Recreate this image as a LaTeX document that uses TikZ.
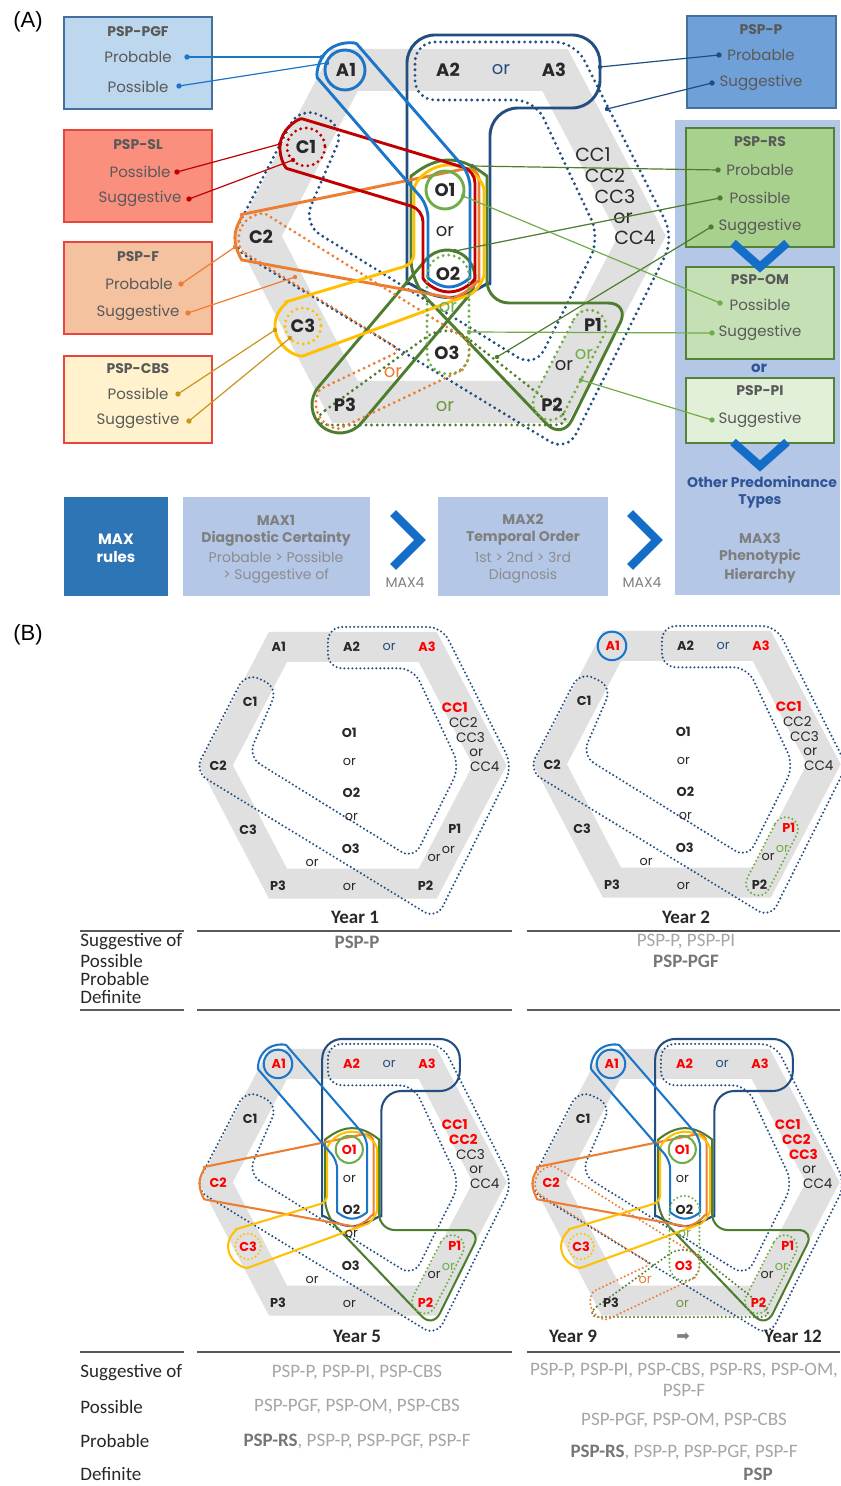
\documentclass[tikz,border=0pt]{standalone}
\usepackage{fontspec}
\setmainfont{Poppins}
\newfontfamily\narrowf{Carlito}
\newfontfamily\arialf{Liberation Sans}
\newfontfamily\dejavuf{DejaVu Sans}
\usetikzlibrary{calc}

\definecolor{bandgrey}{RGB}{224,224,224}
\definecolor{pgfblue}{RGB}{27,117,201}
\definecolor{navyP}{RGB}{34,78,128}
\definecolor{slred}{RGB}{192,0,0}
\definecolor{forange}{RGB}{237,125,49}
\definecolor{cbsyellow}{RGB}{255,192,0}
\definecolor{cbsgold}{RGB}{200,150,30}
\definecolor{rsgreen}{RGB}{78,125,47}
\definecolor{omgreen}{RGB}{112,173,71}
\definecolor{rsolive}{RGB}{110,150,60}
\definecolor{boxPGF}{RGB}{189,215,238}
\definecolor{boxSL}{RGB}{250,143,125}
\definecolor{boxF}{RGB}{245,194,160}
\definecolor{boxCBS}{RGB}{255,242,204}
\definecolor{boxP}{RGB}{111,160,216}
\definecolor{boxRS}{RGB}{169,209,142}
\definecolor{boxOM}{RGB}{197,224,180}
\definecolor{boxPI}{RGB}{226,240,217}
\definecolor{panelbg}{RGB}{180,199,231}
\definecolor{bluebdr}{RGB}{65,113,156}
\definecolor{redbdr}{RGB}{232,70,60}
\definecolor{greenbdr}{RGB}{84,130,53}
\definecolor{chevblue}{RGB}{20,110,200}
\definecolor{maxblue}{RGB}{46,117,182}
\definecolor{txtgrey}{RGB}{89,89,89}
\definecolor{maxgrey}{RGB}{127,127,127}
\definecolor{lightgrey}{RGB}{140,140,140}
\definecolor{tablegrey}{RGB}{166,166,166}
\definecolor{tabbold}{RGB}{118,118,118}
\definecolor{labgrey}{RGB}{40,40,40}
\definecolor{labred}{RGB}{255,0,0}
\definecolor{navytxt}{RGB}{47,85,151}
\definecolor{rulegrey}{RGB}{90,90,90}

\newcommand\setsc[1]{%
  \def\sc{#1}%
  \pgfmathsetmacro\lwS{1.45*#1}%
  \pgfmathsetmacro\lwD{1.6*#1}%
  \pgfmathsetmacro\dotS{2.8*#1}%
  \pgfmathsetmacro\fsL{9*#1}%
  \pgfmathsetmacro\fsC{9.5*#1}%
  \pgfmathsetmacro\bandW{21*#1}%
}
\tikzset{
  rc/.code={\pgfmathsetlengthmacro\tmprc{#1*\sc*0.5pt}\tikzset{rounded corners=\tmprc}},
  solidO/.style={line width=\lwS pt, line join=round},
  dotO/.style={line width=\lwD pt, line cap=round, dash pattern=on 0pt off \dotS pt},
  lab/.style={font=\fontsize{\fsL}{\fsL}\selectfont\bfseries, text=labgrey, inner sep=0pt},
  labc/.style={font=\fontsize{\fsC}{\fsC}\selectfont, text=labgrey, inner sep=0pt},
  labor/.style={font=\fontsize{\fsL}{\fsL}\selectfont, text=labgrey, inner sep=0pt},
  isred/.style={text=labred},
  isredc/.style={text=labred, font=\fontsize{\fsC}{\fsC}\selectfont\bfseries},
  lA1/.style={}, lA2/.style={}, lA3/.style={}, lCC1/.style={}, lCC2/.style={}, lCC3/.style={},
  lC2/.style={}, lC3/.style={}, lO1/.style={}, lO3/.style={}, lP1/.style={}, lP2/.style={},
  orA/.style={}, orO2/.style={}, orP1/.style={}, orP3/.style={}, orPP/.style={},
  boxst/.style={inner sep=0pt, line width=0.6pt},
  ttl/.style={font=\fontsize{7}{7}\selectfont\bfseries, text=txtgrey, inner sep=0pt},
  bod/.style={font=\fontsize{7.5}{7.5}\selectfont, text=txtgrey, inner sep=0pt},
  maxb/.style={font=\fontsize{7}{7}\selectfont\bfseries, text=maxgrey, inner sep=0pt},
  maxr/.style={font=\fontsize{7}{7}\selectfont, text=lightgrey, inner sep=0pt},
  chev/.style={chevblue, line width=4.2pt, line join=miter},
  tabl/.style={font=\narrowf\fontsize{9.5}{9.5}\selectfont, text=labgrey, inner sep=0pt, anchor=west},
  tabv/.style={font=\narrowf\fontsize{9.5}{9.5}\selectfont, text=tablegrey, inner sep=0pt},
  tabb/.style={font=\narrowf\fontsize{9.5}{9.5}\selectfont\bfseries, text=tabbold, inner sep=0pt},
  yearl/.style={font=\narrowf\fontsize{9.5}{9.5}\selectfont\bfseries, text=labgrey, inner sep=0pt},
  rulel/.style={rulegrey, line width=0.9pt},
}

% ---------- hexagon diagram pieces (local pixel coordinates of panel A) ----------
\newcommand\hexband{\draw[bandgrey, line width=\bandW pt, line join=miter] (345,70) -- (555,70) -- (642,236) -- (555,402) -- (345,402) -- (258,236) -- cycle;}
\newcommand\shD{\draw[navyP,dotO,rc=20] (415,42) -- (575,42) -- (674,238) -- (567,452) -- (228,245) -- (300,106) -- (345,127) -- (303,224) -- (535,368) -- (600,238) -- (535,100) -- (415,100) -- cycle;}
\newcommand\shNavy{\draw[navyP,solidO,rc=28] (407,150) -- (407,35) -- (600,35) -- (600,108) -- (490,108) -- (490,256) arc[start angle=0,end angle=180,radius=41.5] -- cycle;}
\newcommand\shAone{\draw[pgfblue,solidO] (345,70) circle[radius=20];}
\newcommand\shBlue{\draw[pgfblue,solidO,rc=12] (325.3,87) arc[start angle=139.2,end angle=319.2,radius=26] -- (470,174.5) -- (470,266) arc[start angle=0,end angle=180,radius=21] -- (428,205.5) -- cycle;}
\newcommand\shRedDot{\draw[slred,dotO] (306,147) circle[radius=19];}
\newcommand\shRed{\draw[slred,solidO,rc=12] (298.5,172) arc[start angle=106.7,end angle=286.7,radius=26] -- (475,170.8) -- (475,266) arc[start angle=0,end angle=180,radius=26] -- (423,209.6) -- cycle;}
\newcommand\shOrange{\draw[forange,solidO,rc=15] (256.2,262.6) arc[start angle=100.6,end angle=258.5,radius=26] -- (479,165.9) -- (479,267) arc[start angle=0,end angle=100.7,radius=30] -- cycle;}
\newcommand\shOrangeDot{\draw[forange,dotO,rc=8] (249.4,255.7) arc[start angle=121.8,end angle=301.8,radius=22] -- (458.6,334.3) arc[start angle=-58.2,end angle=64.5,radius=22] -- (347.5,424.8) arc[start angle=64.5,end angle=244.5,radius=22] -- (401.2,350.5) -- cycle;}
\newcommand\shYellow{\draw[cbsyellow,solidO,rc=10] (312.9,352.2) arc[start angle=69.2,end angle=253.3,radius=28] -- (414,263.6) -- (414,200) arc[start angle=180,end angle=360,radius=35] -- (484,265) arc[start angle=0,end angle=69.2,radius=35] -- cycle;}
\newcommand\shYellowDot{\draw[cbsyellow,dotO] (303,326) circle[radius=18];}
\newcommand\shOone{\draw[omgreen,solidO] (445,190) circle[radius=19];}
\newcommand\shGreen{\draw[rsgreen,solidO,rc=22] (411,198) arc[start angle=180,end angle=360,radius=38] -- (487,303) -- (630,303) -- (562,440) -- (411,282) -- cycle;}
\newcommand\shGreenPthree{\draw[rsgreen,solidO] (361.4,423) arc[start angle=40.1,end angle=220.1,radius=28] -- (425.6,260) arc[start angle=220.1,end angle=400.1,radius=28] -- cycle;}
\newcommand\shGreenDot{\draw[rsgreen,dotO,rc=25] (305,425) -- (447,322) -- (578,425) -- cycle;}
\newcommand\shOMdot{\draw[omgreen,dotO] (427,276) arc[start angle=180,end angle=360,radius=21] -- (469,353) arc[start angle=0,end angle=180,radius=21] -- cycle;}
\newcommand\shPIdot{\draw[omgreen,dotO] (573.9,319.2) arc[start angle=207.2,end angle=387.2,radius=17] -- (565.1,410.8) arc[start angle=27.2,end angle=207.2,radius=17] -- cycle;}

\newcommand\hexlabels[1]{%
 \node[lab,lA1] (#1A1) at (346,70) {A1};
 \node[lab,lA2] (#1A2) at (448,70) {A2};
 \node[labor,orA] (#1orA) at (501,70) {or};
 \node[lab,lA3] (#1A3) at (554,70) {A3};
 \node[labc,lCC1] (#1CC1) at (593,155) {CC1};
 \node[labc,lCC2] (#1CC2) at (605,176) {CC2};
 \node[labc,lCC3] (#1CC3) at (615,197) {CC3};
 \node[labc] (#1orCC) at (623,218) {or};
 \node[labc] (#1CC4) at (635,238) {CC4};
 \node[lab] (#1C1) at (306,147) {C1};
 \node[lab,lC2] (#1C2) at (261,237) {C2};
 \node[lab,lC3] (#1C3) at (303,326) {C3};
 \node[lab,lO1] (#1O1) at (445,190) {O1};
 \node[labor] (#1orO) at (445,232) {or};
 \node[lab] (#1O2) at (448,274) {O2};
 \node[labor,orO2] (#1orOb) at (448,308) {or};
 \node[lab,lO3] (#1O3) at (447,353) {O3};
 \node[lab,lP1] (#1P1) at (593,325) {P1};
 \node[labor,orP1] (#1orPa) at (584,355) {or};
 \node[labor] (#1orPb) at (564,366) {or};
 \node[lab,lP2] (#1P2) at (552,405) {P2};
 \node[lab] (#1P3) at (345,405) {P3};
 \node[labor,orP3] (#1orPc) at (393,373) {or};
 \node[labor,orPP] (#1orPd) at (445,407) {or};
}

\newcommand\link[4]{%
 \coordinate (#2-s) at (#3); \coordinate (#2-e) at (#4);
 \draw[#1, line width=0.6pt] (#2-s) -- (#2-e);
 \fill[#1] (#2-s) circle[radius=2.7];
 \fill[#1] (#2-e) circle[radius=2.2];}

\begin{document}
\begin{tikzpicture}[x=0.5pt,y=-0.5pt]
\useasboundingbox (0,0) rectangle (840,1486);
\fill[white] (0,0) rectangle (840,1486);

\node[font=\arialf\fontsize{11}{11}\selectfont, inner sep=0pt] (labA) at (28,22) {(A)};
\node[font=\arialf\fontsize{11}{11}\selectfont, inner sep=0pt] (labB) at (28,635) {(B)};

% right background panel
\node[fill=panelbg, minimum width=82.5pt, minimum height=237.5pt, inner sep=0pt] (rbg) at (757.5,357.5) {};

% ================= panel A diagram =================
\begin{scope}
\setsc{1}
\tikzset{orA/.style={text=navyP}, orO2/.style={text=omgreen}, orP1/.style={text=omgreen},
  orP3/.style={text=forange}, orPP/.style={text=rsolive}}
\hexband
\shD \shNavy \shGreen \shGreenPthree \shGreenDot
\shOrangeDot \shOrange \shYellow \shYellowDot \shRed \shRedDot \shBlue \shAone
\shOone \shOMdot \shPIdot
\hexlabels{a}
\end{scope}

% ================= left boxes =================
\node[boxst, fill=boxPGF, draw=bluebdr, minimum width=74pt, minimum height=46pt] (bPGF) at (138,63) {};
\node[ttl] (tPGF) at (138,32) {PSP-PGF};
\node[bod] (tPGFa) at (138,57) {Probable};
\node[bod] (tPGFb) at (138,87) {Possible};

\node[boxst, fill=boxSL, draw=redbdr, minimum width=74pt, minimum height=46pt] (bSL) at (138,176) {};
\node[ttl] (tSL) at (138,145) {PSP-SL};
\node[bod] (tSLa) at (140,172) {Possible};
\node[bod] (tSLb) at (140,199) {Suggestive};

\node[boxst, fill=boxF, draw=redbdr, minimum width=74pt, minimum height=46pt] (bF) at (138,288) {};
\node[ttl] (tF) at (138,257) {PSP-F};
\node[bod] (tFa) at (139,284) {Probable};
\node[bod] (tFb) at (138,313) {Suggestive};

\node[boxst, fill=boxCBS, draw=redbdr, minimum width=74pt, minimum height=43.5pt] (bCBS) at (138,399.5) {};
\node[ttl] (tCBS) at (138,369) {PSP-CBS};
\node[bod] (tCBSa) at (138,394) {Possible};
\node[bod] (tCBSb) at (138,421) {Suggestive};

% ================= right boxes =================
\node[boxst, fill=boxP, draw=bluebdr, minimum width=74.5pt, minimum height=46pt] (bP) at (761.5,62) {};
\node[ttl] (tP) at (761,30) {PSP-P};
\node[bod] (tPa) at (761,55) {Probable};
\node[bod] (tPb) at (761,83) {Suggestive};

\node[boxst, fill=boxRS, draw=greenbdr, minimum width=74pt, minimum height=59.5pt] (bRS) at (760,187.5) {};
\node[ttl] (tRS) at (760,142) {PSP-RS};
\node[bod] (tRSa) at (760,170) {Probable};
\node[bod] (tRSb) at (760,198) {Possible};
\node[bod] (tRSc) at (760,227) {Suggestive};

\node[boxst, fill=boxOM, draw=greenbdr, minimum width=74pt, minimum height=46pt] (bOM) at (760,313) {};
\node[ttl] (tOM) at (760,280) {PSP-OM};
\node[bod] (tOMa) at (760,305) {Possible};
\node[bod] (tOMb) at (760,333) {Suggestive};

\node[font=\fontsize{7.5}{7.5}\selectfont\bfseries, text=navytxt, inner sep=0pt] (tor) at (759,368) {or};

\node[boxst, fill=boxPI, draw=greenbdr, minimum width=74pt, minimum height=32.5pt] (bPI) at (760,410.5) {};
\node[ttl] (tPI) at (760,391) {PSP-PI};
\node[bod] (tPIa) at (760,420) {Suggestive};

\coordinate (cv1a) at (733,243); \coordinate (cv1b) at (760,267); \coordinate (cv1c) at (787,243);
\draw[chev] (cv1a) -- (cv1b) -- (cv1c);
\coordinate (cv2a) at (733,442); \coordinate (cv2b) at (760,466); \coordinate (cv2c) at (787,442);
\draw[chev] (cv2a) -- (cv2b) -- (cv2c);

\node[font=\fontsize{7}{7}\selectfont\bfseries, text=navytxt, inner sep=0pt] (tOther) at (762,482) {Other Predominance};
\node[font=\fontsize{7}{7}\selectfont\bfseries, text=navytxt, inner sep=0pt] (tTypes) at (760,501) {Types};
\node[maxb] (tM3a) at (760,538) {MAX3};
\node[maxb] (tM3b) at (760,557) {Phenotypic};
\node[maxb] (tM3c) at (760,576) {Hierarchy};

% ================= MAX rules row =================
\node[boxst, fill=maxblue, minimum width=52pt, minimum height=49.5pt] (bMAX) at (116,546.5) {};
\node[font=\fontsize{7.5}{7.5}\selectfont\bfseries, text=white, inner sep=0pt] (tMAXa) at (116,539) {MAX};
\node[font=\fontsize{7.5}{7.5}\selectfont\bfseries, text=white, inner sep=0pt] (tMAXb) at (116,557) {rules};

\node[boxst, fill=panelbg, minimum width=93.5pt, minimum height=49.5pt] (bM1) at (276.5,546.5) {};
\node[maxb] (tM1a) at (276,520) {MAX1};
\node[maxb] (tM1b) at (276,539) {Diagnostic Certainty};
\node[maxr] (tM1c) at (276,557) {Probable > Possible};
\node[maxr] (tM1d) at (276,576) {> Suggestive of};

\node[boxst, fill=panelbg, minimum width=85pt, minimum height=49.5pt] (bM2) at (523,546.5) {};
\node[maxb] (tM2a) at (523,519) {MAX2};
\node[maxb] (tM2b) at (523,538) {Temporal Order};
\node[maxr] (tM2c) at (523,557) {1st > 2nd > 3rd};
\node[maxr] (tM2d) at (523,576) {Diagnosis};

\coordinate (ch1a) at (393,513); \coordinate (ch1b) at (420,540); \coordinate (ch1c) at (393,567);
\draw[chev] (ch1a) -- (ch1b) -- (ch1c);
\coordinate (ch2a) at (630,513); \coordinate (ch2b) at (657,540); \coordinate (ch2c) at (630,567);
\draw[chev] (ch2a) -- (ch2b) -- (ch2c);
\node[font=\fontsize{7}{7}\selectfont, text=maxgrey, inner sep=0pt] (m4a) at (405,582) {MAX4};
\node[font=\fontsize{7}{7}\selectfont, text=maxgrey, inner sep=0pt] (m4b) at (642,582) {MAX4};

% ================= connectors panel A =================
\link{pgfblue}{lk1}{187,57}{322,57}
\link{pgfblue}{lk2}{179,86}{327,63}
\link{slred}{lk3}{177,172}{280,144}
\link{slred}{lk4}{189,199}{293,160}
\link{forange}{lk5}{181,284}{235,247}
\link{forange}{lk6}{188,313}{295,277}
\link{cbsgold}{lk7}{178,394}{275,330}
\link{cbsgold}{lk8}{189,421}{290,338}
\link{navyP}{lk9}{719,55}{600,67}
\link{navyP}{lk10}{712,83}{607,109}
\link{rsgreen}{lk11}{718,170}{472,166}
\link{rsgreen}{lk12}{720,198}{455,251}
\link{rsgreen}{lk13}{711,227}{497,357}
\link{omgreen}{lk14}{720,303}{463,196}
\link{omgreen}{lk15}{712,333}{469,332}
\link{omgreen}{lk16}{712,420}{581,380}

% ================= panel B diagrams =================
% Year 1
\begin{scope}[xshift=16pt,yshift=-298.5pt,x=0.3565pt,y=-0.3565pt]
\setsc{0.713}
\tikzset{orA/.style={text=navyP}, lA3/.style={isred}, lCC1/.style={isredc}}
\hexband
\shD
\hexlabels{b}
\end{scope}
% Year 2
\begin{scope}[xshift=183pt,yshift=-298pt,x=0.3565pt,y=-0.3565pt]
\setsc{0.713}
\tikzset{orA/.style={text=navyP}, orP1/.style={text=omgreen}, lA1/.style={isred}, lA3/.style={isred}, lCC1/.style={isredc}, lP1/.style={isred}}
\hexband
\shD \shAone \shPIdot
\hexlabels{c}
\end{scope}
% Year 5
\begin{scope}[xshift=16pt,yshift=-507pt,x=0.3565pt,y=-0.3565pt]
\setsc{0.713}
\tikzset{orA/.style={text=navyP}, orP1/.style={text=omgreen}, lA1/.style={isred}, lA2/.style={isred}, lA3/.style={isred},
 lCC1/.style={isredc}, lCC2/.style={isredc}, lC2/.style={isred}, lC3/.style={isred}, lO1/.style={isred}, lP1/.style={isred}, lP2/.style={isred}}
\hexband
\shD \shNavy \shGreen \shOrange \shYellow \shYellowDot \shBlue \shAone \shOone \shPIdot
\hexlabels{d}
\end{scope}
% Year 9 -> 12
\begin{scope}[xshift=182.5pt,yshift=-507pt,x=0.3565pt,y=-0.3565pt]
\setsc{0.713}
\tikzset{orA/.style={text=navyP}, orP1/.style={text=omgreen}, orO2/.style={text=omgreen}, orP3/.style={text=forange}, orPP/.style={text=rsolive},
 lA1/.style={isred}, lA2/.style={isred}, lA3/.style={isred}, lCC1/.style={isredc}, lCC2/.style={isredc}, lCC3/.style={isredc},
 lC2/.style={isred}, lC3/.style={isred}, lO1/.style={isred}, lO3/.style={isred}, lP1/.style={isred}, lP2/.style={isred}}
\hexband
\shD \shNavy \shGreen \shGreenDot \shOrangeDot \shOrange \shYellow \shYellowDot \shBlue \shAone \shOone \shOMdot \shPIdot
\hexlabels{e}
\end{scope}

% ================= tables =================
\node[yearl] (y1) at (355,917) {Year 1};
\node[yearl] (y2) at (686,917) {Year 2};
\coordinate (r1a) at (80,931); \coordinate (r1b) at (184,931);
\coordinate (r1c) at (197,931); \coordinate (r1d) at (512,931);
\coordinate (r1e) at (527,931); \coordinate (r1f) at (840,931);
\draw[rulel] (r1a) -- (r1b); \draw[rulel] (r1c) -- (r1d); \draw[rulel] (r1e) -- (r1f);
\coordinate (r2a) at (80,1010); \coordinate (r2b) at (184,1010);
\coordinate (r2c) at (197,1010); \coordinate (r2d) at (512,1010);
\coordinate (r2e) at (527,1010); \coordinate (r2f) at (840,1010);
\draw[rulel] (r2a) -- (r2b); \draw[rulel] (r2c) -- (r2d); \draw[rulel] (r2e) -- (r2f);
\node[tabl] (t1a) at (80,942) {Suggestive of};
\node[tabl] (t1b) at (80,961) {Possible};
\node[tabl] (t1c) at (80,979) {Probable};
\node[tabl] (t1d) at (80,997) {Definite};
\node[tabb] (v1a) at (357,942) {PSP-P};
\node[tabv] (v2a) at (686,942) {PSP-P, PSP-PI};
\node[tabb] (v2b) at (686,961) {PSP-PGF};

\node[yearl] (y5) at (357,1336) {Year 5};
\node[yearl] (y9) at (573,1336) {Year 9};
\node[font=\dejavuf\fontsize{8}{8}\selectfont, text=maxgrey, inner sep=0pt] (yarr) at (683,1337) {➡};
\node[yearl] (y12) at (793,1336) {Year 12};
\coordinate (r3a) at (80,1352); \coordinate (r3b) at (184,1352);
\coordinate (r3c) at (197,1352); \coordinate (r3d) at (512,1352);
\coordinate (r3e) at (527,1352); \coordinate (r3f) at (840,1352);
\draw[rulel] (r3a) -- (r3b); \draw[rulel] (r3c) -- (r3d); \draw[rulel] (r3e) -- (r3f);
\node[tabl] (t2a) at (80,1373) {Suggestive of};
\node[tabl] (t2b) at (80,1407) {Possible};
\node[tabl] (t2c) at (80,1441) {Probable};
\node[tabl] (t2d) at (80,1474) {Definite};
\node[tabv] (v5a) at (357,1373) {PSP-P, PSP-PI, PSP-CBS};
\node[tabv] (v5b) at (357,1407) {PSP-PGF, PSP-OM, PSP-CBS};
\node[tabv] (v5c) at (357,1441) {{\color{tabbold}\bfseries PSP-RS}, PSP-P, PSP-PGF, PSP-F};
\node[tabv] (v9a) at (684,1371) {PSP-P, PSP-PI, PSP-CBS, PSP-RS, PSP-OM,};
\node[tabv] (v9b) at (684,1390) {PSP-F};
\node[tabv] (v9c) at (684,1421) {PSP-PGF, PSP-OM, PSP-CBS};
\node[tabv] (v9d) at (684,1452) {{\color{tabbold}\bfseries PSP-RS}, PSP-P, PSP-PGF, PSP-F};
\node[tabb] (v9e) at (758,1474) {PSP};
\end{tikzpicture}
\end{document}
